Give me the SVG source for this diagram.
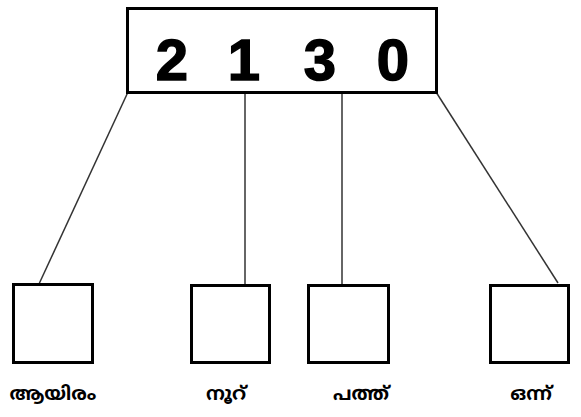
<svg xmlns="http://www.w3.org/2000/svg" width="581" height="417" viewBox="0 0 581 417">
<style>
.box{fill:#fff;stroke:#000;stroke-width:3}
.con{stroke:#333;stroke-width:1.5;fill:none}
.dig{font-family:"Liberation Sans",Arial,sans-serif;font-weight:bold;font-size:58px;text-anchor:middle;fill:#000;stroke:#000;stroke-width:1.5}
.lbl{font-family:"Noto Sans Malayalam","Noto Sans","DejaVu Sans",sans-serif;font-weight:bold;font-size:19px;text-anchor:middle;fill:#000}
</style>
<rect width="581" height="417" fill="#fff"/>
<g id="connectors">
<line class="con" x1="128" y1="92" x2="39" y2="284"/>
<line class="con" x1="245" y1="92" x2="245" y2="285"/>
<line class="con" x1="342" y1="92" x2="342" y2="285"/>
<line class="con" x1="436" y1="92" x2="558" y2="283"/>
</g>
<g id="number">
<rect class="box" x="127.5" y="8.5" width="309" height="84"/>
<text class="dig" x="172" y="80">2</text>
<text class="dig" x="244" y="80">1</text>
<text class="dig" x="320" y="80">3</text>
<text class="dig" x="393" y="80">0</text>
</g>
<g id="n1"><rect class="box" x="13.5" y="284.5" width="79" height="78"/><text class="lbl" x="53" y="400">ആയിരം</text></g>
<g id="n2"><rect class="box" x="191.5" y="285.5" width="78" height="77"/><text class="lbl" x="226" y="400">നൂറ്</text></g>
<g id="n3"><rect class="box" x="308.5" y="285.5" width="80" height="77"/><text class="lbl" x="361" y="400">പത്ത്</text></g>
<g id="n4"><rect class="box" x="490.5" y="285.5" width="78" height="77"/><text class="lbl" x="531" y="400">ഒന്ന്</text></g>
</svg>
